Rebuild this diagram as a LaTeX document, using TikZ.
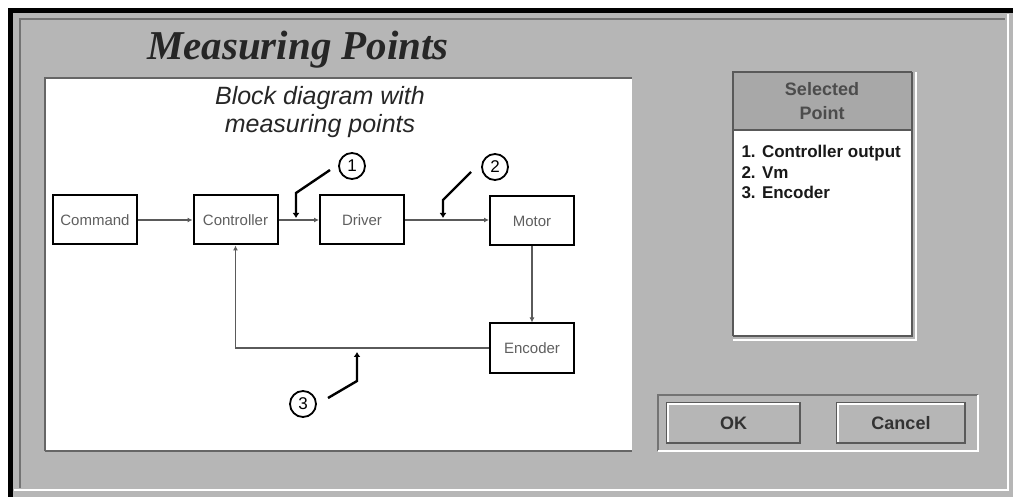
\documentclass[tikz,border=0pt]{standalone}
\usepackage{fontspec}
\setmainfont{Liberation Serif}
\setsansfont{Liberation Sans}
\usetikzlibrary{arrows.meta}
\definecolor{bg}{RGB}{182,182,182}
\definecolor{hdr}{RGB}{168,168,168}
\definecolor{dk}{RGB}{90,90,90}
\definecolor{txt}{RGB}{95,95,95}
\begin{document}
\begin{tikzpicture}[x=1pt,y=-1pt,
  blk/.style={draw=black,line width=2pt,fill=white,minimum width=84pt,minimum height=49pt,inner sep=0pt,
    font=\sffamily\fontsize{15}{15}\selectfont,text=txt},
  conn/.style={draw=dk,line width=1.4pt,-{Latex[length=5pt,width=5pt]}},
  mpline/.style={draw=black,line width=2.4pt,-{Latex[length=5pt,width=7pt]}},
  numc/.style={circle,draw=black,line width=1.8pt,minimum size=26pt,inner sep=0pt,
    font=\sffamily\fontsize{17}{17}\selectfont},
  btn/.style={draw=dk,line width=1.5pt,fill=bg,minimum width=133pt,minimum height=40pt,inner sep=0pt,
    font=\sffamily\bfseries\fontsize{18}{18}\selectfont,text=black!80}]
\useasboundingbox (0,0) rectangle (1013,497);
\fill[white] (0,0) rectangle (1013,497);
\fill[bg] (8,8) rectangle (1013,497);
% window frame
\draw[black,line width=5pt] (10.5,497) -- (10.5,10.5) -- (1013,10.5);
\draw[white,line width=2.5pt] (14,490) -- (1008,490) -- (1008,14);
\draw[black!55,line width=1.2pt] (20,488) -- (20,19) -- (1005,19);
% title
\node[anchor=base,font=\rmfamily\bfseries\itshape\fontsize{41}{41}\selectfont,text=black!85] (title) at (298,60) {Measuring Points};
% white panel
\fill[white] (45,78) rectangle (632,451);
\draw[black!60,line width=1.2pt] (45,451) -- (45,78) -- (632,78);
\draw[black!60,line width=1.2pt] (45,451) -- (632,451);
\node[anchor=base,align=center,font=\sffamily\itshape\fontsize{25}{28}\selectfont,text=black!85] (sub) at (320,133) {Block diagram with\\measuring points};
% blocks
\node[blk] (cmd) at (95,220) {Command};
\node[blk] (ctrl) at (235.5,220) {Controller};
\node[blk] (drv) at (362,220) {Driver};
\node[blk] (mot) at (532,221) {Motor};
\node[blk] (enc) at (532,348) {Encoder};
% connectors
\draw[conn] (cmd) -- (ctrl);
\draw[conn] (ctrl) -- (drv);
\draw[conn] (drv.east) -- (drv.east -| mot.west);
\draw[conn] (mot) -- (enc);
\draw[conn] (enc.west) -| (ctrl.south);
% measuring points
\node[numc] (n1) at (352,166) {1};
\node[numc] (n2) at (495,167) {2};
\node[numc] (n3) at (303,404) {3};
\coordinate (m1s) at (330,170);
\coordinate (m1k) at (296,193);
\coordinate (m1e) at (296,218);
\coordinate (m2s) at (471,172);
\coordinate (m2k) at (443,200);
\coordinate (m2e) at (443,218);
\coordinate (m3s) at (328,398);
\coordinate (m3k) at (357,381);
\coordinate (m3e) at (357,352);
\draw[mpline] (m1s) -- (m1k) -- (m1e);
\draw[mpline] (m2s) -- (m2k) -- (m2e);
\draw[mpline] (m3s) -- (m3k) -- (m3e);
% selected point panel
\fill[hdr] (733,72) rectangle (912,130);
\fill[white] (733,130) rectangle (912,336);
\draw[black!65,line width=1.5pt] (733,336) -- (733,72) -- (912,72);
\draw[black!65,line width=1.5pt] (733,130) -- (912,130);
\draw[black!65,line width=1.5pt] (733,336) -- (912,336) -- (912,72);
\draw[white,line width=2.5pt] (733,340) -- (916,340) -- (916,72);
\node[anchor=base,align=center,font=\sffamily\bfseries\fontsize{18}{24}\selectfont,text=black!70] (sel) at (822,120) {Selected\\Point};
\node[anchor=base west,align=left,font=\sffamily\bfseries\fontsize{17}{20.5}\selectfont,text=black!90] (lst) at (738,199) {1. Controller output\\2. Vm\\3. Encoder};
% buttons
\draw[black!55,line width=1.5pt] (658,451) -- (658,395) -- (978,395);
\draw[white,line width=2.5pt] (658,451) -- (978,451) -- (978,395);
\node[btn] (ok) at (733.5,423) {OK};
\node[btn,minimum width=128pt] (cancel) at (901,423) {Cancel};
\draw[white,line width=1.8pt] ([shift={(2,-2)}]ok.south west) -- ([shift={(2,2)}]ok.north west) -- ([shift={(-2,2)}]ok.north east);
\draw[white,line width=1.8pt] ([shift={(2,-2)}]cancel.south west) -- ([shift={(2,2)}]cancel.north west) -- ([shift={(-2,2)}]cancel.north east);
\end{tikzpicture}
\end{document}
